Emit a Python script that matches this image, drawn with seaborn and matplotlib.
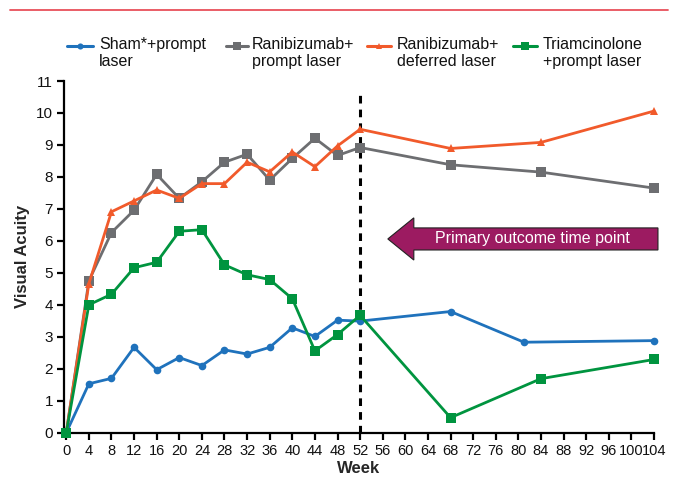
import matplotlib
matplotlib.use("Agg")
import matplotlib.pyplot as plt
import seaborn as sns
import pandas as pd
from matplotlib.lines import Line2D
from matplotlib.patches import FancyArrow

# ---------------- data ----------------
sham_weeks = [0, 4, 8, 12, 16, 20, 24, 28, 32, 36, 40, 44, 48, 52, 68, 81, 104]
sham_va = [0, 1.53, 1.70, 2.67, 1.97, 2.35, 2.10, 2.59, 2.46, 2.67, 3.28, 3.01, 3.52, 3.49, 3.79, 2.83, 2.88]

rp_weeks = [0, 4, 8, 12, 16, 20, 24, 28, 32, 36, 40, 44, 48, 52, 68, 84, 104]
rp_va = [0, 4.75, 6.26, 6.96, 8.08, 7.33, 7.85, 8.46, 8.71, 7.90, 8.58, 9.21, 8.67, 8.92, 8.38, 8.15, 7.65]

rd_weeks = [0, 4, 8, 12, 16, 20, 24, 28, 32, 36, 40, 44, 48, 52, 68, 84, 104]
rd_va = [0, 4.66, 6.91, 7.25, 7.59, 7.33, 7.79, 7.79, 8.46, 8.16, 8.78, 8.32, 8.97, 9.49, 8.89, 9.08, 10.06]

tp_weeks = [0, 4, 8, 12, 16, 20, 24, 28, 32, 36, 40, 44, 48, 52, 68, 84, 104]
tp_va = [0, 4.00, 4.33, 5.16, 5.33, 6.30, 6.35, 5.25, 4.94, 4.79, 4.19, 2.56, 3.07, 3.67, 0.47, 1.69, 2.29]

groups = ["Sham*+prompt\nlaser", "Ranibizumab+\nprompt laser",
          "Ranibizumab+\ndeferred laser", "Triamcinolone\n+prompt laser"]
x_ticks = list(range(0, 105, 4))
y_ticks = list(range(0, 12))
arrow_text = "Primary outcome time point"
primary_week = 52

colors = ["#1F72BC", "#6D6E71", "#F15A2B", "#00943F"]
markers = ["o", "s", "^", "s"]
msizes = [5.5, 7, 6, 7]

rows = []
for g, wk, va in zip(groups, [sham_weeks, rp_weeks, rd_weeks, tp_weeks],
                     [sham_va, rp_va, rd_va, tp_va]):
    for w, v in zip(wk, va):
        rows.append({"week": w, "va": v, "group": g})
df = pd.DataFrame(rows)

# ---------------- figure ----------------
sns.set_theme(style="white")
plt.rcParams["font.family"] = ["Liberation Sans", "DejaVu Sans"]

W, H = 678, 482
fig = plt.figure(figsize=(W / 100, H / 100), dpi=100)
ax = fig.add_axes([64 / W, 1 - 432.7 / H, (654 - 64) / W, (432.7 - 81) / H])

for g, c, m, ms in zip(groups, colors, markers, msizes):
    sub = df[df["group"] == g]
    sns.lineplot(data=sub, x="week", y="va", ax=ax, color=c, marker=m,
                 markersize=ms, markeredgewidth=0, linewidth=2.0,
                 legend=False, clip_on=False, zorder=3)

ax.set_xlim(-0.4, 104)
ax.set_ylim(0, 11)
ax.set_xticks(x_ticks)
ax.set_yticks(y_ticks)
ax.set_xticklabels([str(t) for t in x_ticks], fontsize=10.5)
ax.set_yticklabels([str(t) for t in y_ticks], fontsize=11)
for s in ["top", "right"]:
    ax.spines[s].set_visible(False)
for s in ["left", "bottom"]:
    ax.spines[s].set_linewidth(1.6)
    ax.spines[s].set_color("black")
ax.tick_params(axis="both", which="major", direction="out", length=5,
               width=1.6, color="black", labelcolor="#111111", pad=3,
               bottom=True, left=True)
ax.set_xlabel("Week", fontsize=12, fontweight="bold", labelpad=2)
ax.set_ylabel("Visual Acuity", fontsize=12, fontweight="bold", labelpad=4)
ax.grid(False)

# primary outcome line
ax.plot([primary_week, primary_week], [0, 10.6], color="black", linewidth=2.2,
        linestyle=(0, (2.5, 2)), zorder=2, clip_on=False)

# arrow
arr = FancyArrow(104.7, 6.06, -47.8, 0, width=0.69, head_width=1.32,
                 head_length=4.6, length_includes_head=True,
                 facecolor="#9C1B61", edgecolor="#222222", linewidth=0.8,
                 clip_on=False, zorder=4)
ax.add_patch(arr)
ax.text(82.5, 6.06, arrow_text, color="white", fontsize=11.5,
        ha="center", va="center", zorder=5)

# top red rule
fig.add_artist(Line2D([10 / W, 668 / W], [1 - 10 / H, 1 - 10 / H],
                      transform=fig.transFigure, color="#E8505A", linewidth=1.3))

# legend (manual, handle aligned with first text line)
handle_x = [(67, 93), (226, 248), (367, 391), (513, 537)]
text_x = [99, 252, 397, 543]
for (x0, x1), tx, g, c, m, ms in zip(handle_x, text_x, groups, colors, markers, msizes):
    yy = 1 - 46 / H
    fig.add_artist(Line2D([x0 / W, x1 / W], [yy, yy], transform=fig.transFigure,
                          color=c, linewidth=2.2))
    fig.add_artist(Line2D([(x0 + x1) / 2 / W], [yy], transform=fig.transFigure,
                          color=c, marker=m, markersize=ms * 0.8,
                          markeredgewidth=0, linestyle="none"))
    fig.text(tx / W, 1 - 37 / H, g, fontsize=11.5, ha="left", va="top",
             linespacing=1.15, color="#111111")

fig.savefig("out.png", dpi=100)
